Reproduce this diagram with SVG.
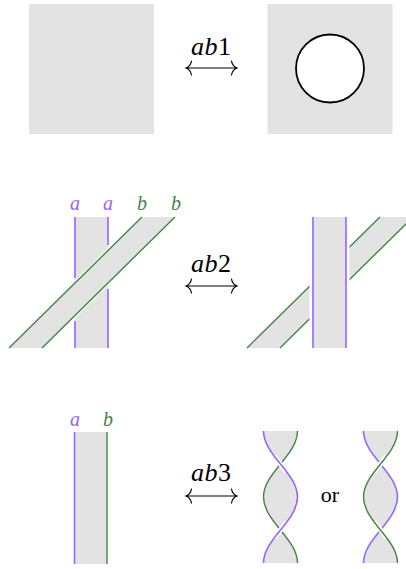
<svg xmlns="http://www.w3.org/2000/svg" width="406" height="569" viewBox="0 0 406 569">
<defs>
<clipPath id="cx1"><rect x="270" y="455" width="21" height="18"/><rect x="270" y="521" width="21" height="18"/></clipPath>
<path id="w1" d="M263.5,431C263.5,455 297.5,473 297.5,497C297.5,521 263.5,539 263.5,563"/>
<path id="w2" d="M297.5,431C297.5,455 263.5,473 263.5,497C263.5,521 297.5,539 297.5,563"/>
</defs>

<g id="ab1-left"><rect fill="#e3e3e3" x="29" y="4" width="125" height="130"/></g>
<g id="ab1-right">
<rect fill="#e3e3e3" x="267.5" y="4" width="125" height="130"/>
<circle cx="330" cy="68.5" r="34" fill="#fff" stroke="#000" stroke-width="1.8"/>
</g>

<g id="ab2-left">
<rect fill="#e3e3e3" x="75" y="217" width="33" height="131"/>
<path stroke="#9664ff" stroke-width="1.6" fill="none" d="M75,217V278M75,321V348M108,217V245M108,289V348"/>
<path stroke="#fff" stroke-width="3.5" fill="none" d="M142,217L9,348M175,217L42,348"/>
<polygon fill="#e3e3e3" points="142,217 175,217 42,348 9,348"/>
<path stroke="#468246" stroke-width="1.4" fill="none" d="M142,217L9,348M175,217L42,348"/>
<g font-family="Liberation Serif" font-style="italic" font-size="20" text-anchor="middle">
<text x="75" y="210" fill="#9664ff">a</text>
<text x="108" y="210" fill="#9664ff">a</text>
<text x="142" y="210" fill="#468246">b</text>
<text x="176" y="210" fill="#468246">b</text>
</g>
</g>

<g id="ab2-right">
<polygon fill="#e3e3e3" points="380,217 413,217 280,348 247,348"/>
<path stroke="#468246" stroke-width="1.4" fill="none" d="M380,217L247,348M413,217L280,348"/>
<rect x="309.5" y="217" width="40" height="131" fill="#fff"/>
<rect fill="#e3e3e3" x="313" y="217" width="33" height="131"/>
<path stroke="#9664ff" stroke-width="1.6" fill="none" d="M313,217V348M346,217V348"/>
</g>

<g id="ab3-left">
<rect fill="#e3e3e3" x="74.5" y="432" width="32.5" height="132"/>
<path stroke="#9664ff" stroke-width="1.6" fill="none" d="M74.5,432V564"/>
<path stroke="#468246" stroke-width="1.4" fill="none" d="M107,432V564"/>
<g font-family="Liberation Serif" font-style="italic" font-size="20" text-anchor="middle">
<text x="75" y="426" fill="#9664ff">a</text>
<text x="108" y="426" fill="#468246">b</text>
</g>
</g>

<g id="ab3-right1">
<path fill="#e3e3e3" d="M263.5,431C263.5,455 297.5,473 297.5,497C297.5,521 263.5,539 263.5,563L297.5,563C297.5,539 263.5,521 263.5,497C263.5,473 297.5,455 297.5,431Z"/>
<use href="#w2" stroke="#468246" stroke-width="1.4" fill="none"/>
<use href="#w1" stroke="#fff" stroke-width="5" fill="none" clip-path="url(#cx1)"/>
<use href="#w1" stroke="#9664ff" stroke-width="1.6" fill="none"/>
</g>

<g id="or-label"><text x="330" y="502" font-family="Liberation Serif" font-size="22" text-anchor="middle" fill="#000">or</text></g>

<g id="ab3-right2">
<path fill="#e3e3e3" d="M363.5,431C363.5,455 397.5,473 397.5,497C397.5,521 363.5,539 363.5,563L397.5,563C397.5,539 363.5,521 363.5,497C363.5,473 397.5,455 397.5,431Z"/>
<g transform="translate(100,0)">
<use href="#w1" stroke="#9664ff" stroke-width="1.6" fill="none"/>
<use href="#w2" stroke="#fff" stroke-width="5" fill="none" clip-path="url(#cx1)"/>
<use href="#w2" stroke="#468246" stroke-width="1.4" fill="none"/>
</g>
</g>

<g id="connectors" font-family="Liberation Serif" font-size="26" text-anchor="middle" fill="#000">
<g id="move-ab1">
<text x="211" y="55" textLength="40" lengthAdjust="spacing"><tspan font-style="italic">ab</tspan>1</text>
<path stroke="#000" stroke-width="1.2" fill="none" stroke-linecap="round" d="M186,68H237M191.5,61C190.8,65 188.5,67 186,68C188.5,69 190.8,71 191.5,75M231.5,61C232.2,65 234.5,67 237,68C234.5,69 232.2,71 231.5,75"/>
</g>
<g id="move-ab2">
<text x="211" y="272" textLength="40" lengthAdjust="spacing"><tspan font-style="italic">ab</tspan>2</text>
<path stroke="#000" stroke-width="1.2" fill="none" stroke-linecap="round" d="M186,286H237M191.5,279C190.8,283 188.5,285 186,286C188.5,287 190.8,289 191.5,293M231.5,279C232.2,283 234.5,285 237,286C234.5,287 232.2,289 231.5,293"/>
</g>
<g id="move-ab3">
<text x="211" y="481" textLength="40" lengthAdjust="spacing"><tspan font-style="italic">ab</tspan>3</text>
<path stroke="#000" stroke-width="1.2" fill="none" stroke-linecap="round" d="M186,496H237M191.5,489C190.8,493 188.5,495 186,496C188.5,497 190.8,499 191.5,503M231.5,489C232.2,493 234.5,495 237,496C234.5,497 232.2,499 231.5,503"/>
</g>
</g>
</svg>
